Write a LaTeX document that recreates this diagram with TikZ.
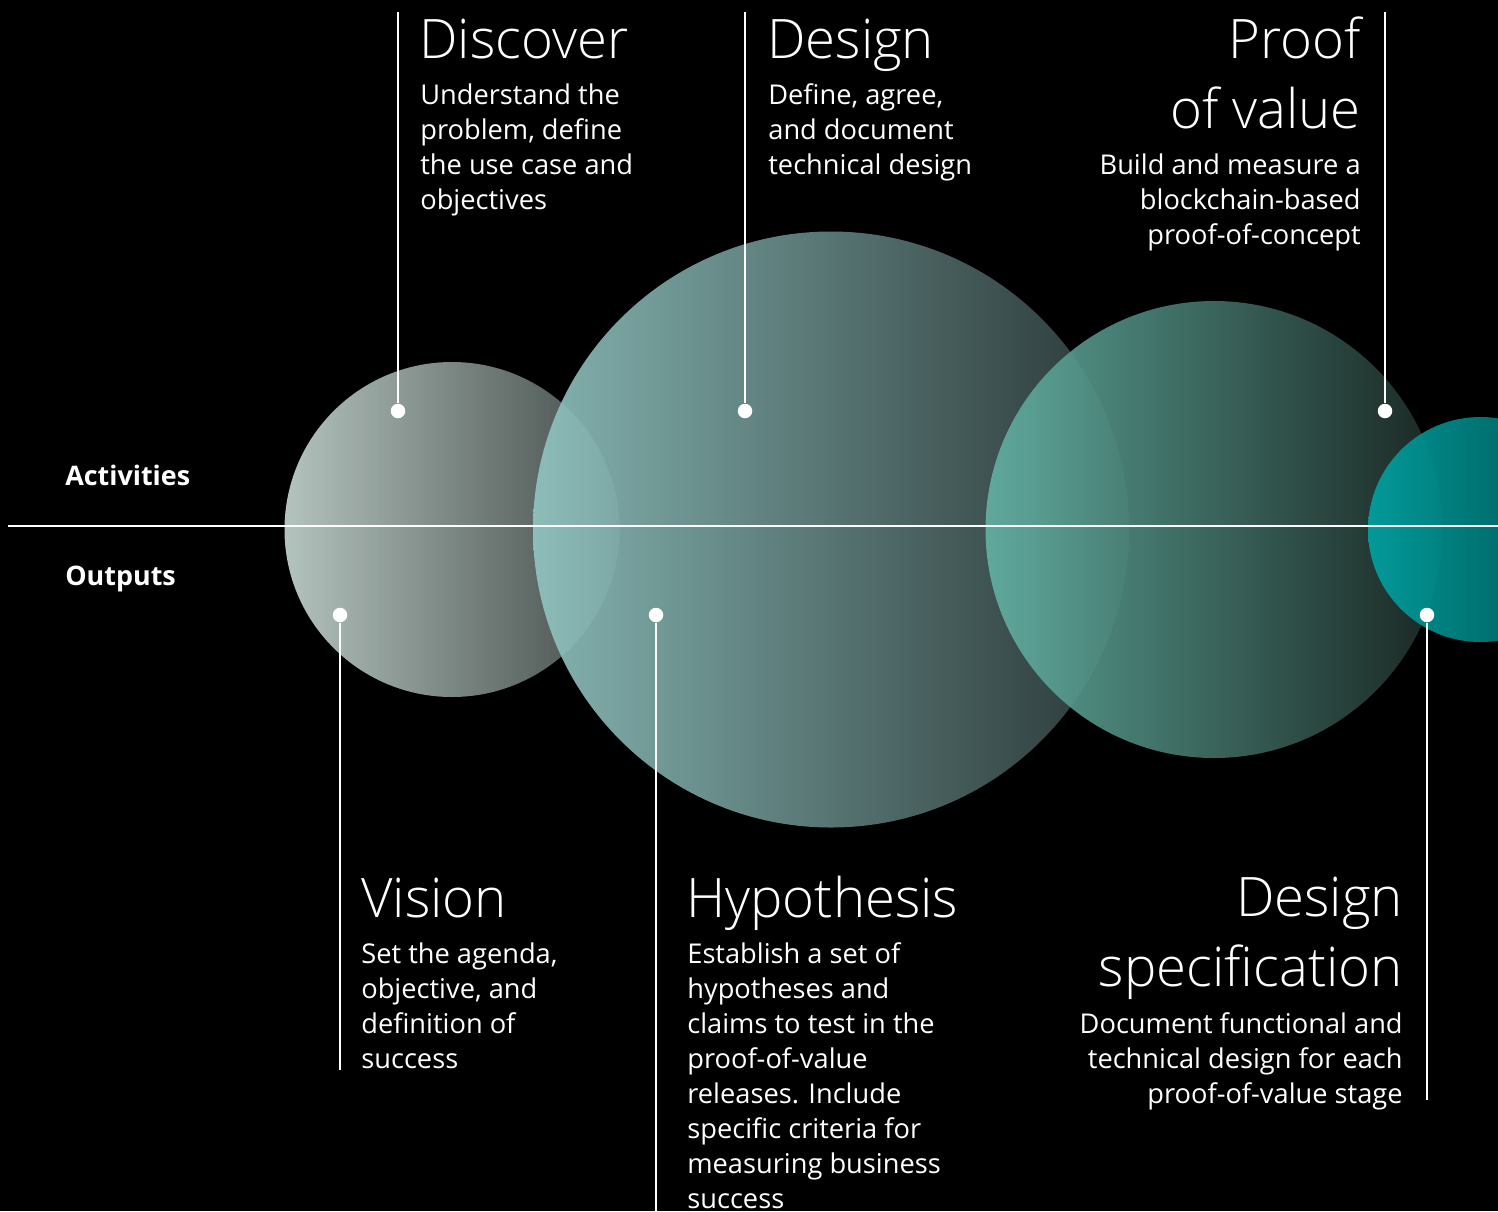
\documentclass[tikz,border=0pt]{standalone}
\usepackage{fontspec}
\setmainfont{Open Sans}
\IfFontExistsTF{Open Sans Light}
    {\newfontfamily\lightfont{Open Sans Light}}
    {\newfontfamily\lightfont{Open Sans}}

\definecolor{sage_light}{HTML}{C8D9D3}
\definecolor{sage_dark}{HTML}{4A5351}
\definecolor{mist_light}{HTML}{93C7C3}
\definecolor{mist_dark}{HTML}{2E3C3C}
\definecolor{sea_light}{HTML}{64B3A5}
\definecolor{sea_dark}{HTML}{1D2B27}
\definecolor{teal_light}{HTML}{00A4A4}
\definecolor{teal_dark}{HTML}{005F5F}

% base anchors sit on the last line of each block
\tikzstyle{stage_title} = [
    white, 
    font=\lightfont\fontsize{31}{39.8}\selectfont, 
    align=left, 
    inner sep=0pt
]
\tikzstyle{stage_text} = [
    white, 
    font=\fontsize{15.5}{19.9}\selectfont, 
    align=left, 
    inner sep=0pt
]
\tikzstyle{row_label} = [
    white, 
    font=\bfseries\fontsize{15.3}{19.9}\selectfont, 
    inner sep=0pt
]
\tikzstyle{dot} = [
    circle, 
    fill=white, 
    inner sep=0pt, 
    minimum size=0.29cm
]
\tikzstyle{leader} = [
    white, 
    line width=1.1pt
]
\tikzstyle{bubble} = [
    fill opacity=0.9
]

\begin{document}
\begin{tikzpicture}[x=0.02cm, y=-0.02cm]
\useasboundingbox (0,0) rectangle (1498,1211);
\fill[black] (0,0) rectangle (1498,1211);
\clip (0,0) rectangle (1498,1211);

% bubbles, left to right
\shade[bubble, left color=sage_light, right color=sage_dark] (452,529.5) circle (167.5);
\shade[bubble, left color=mist_light, right color=mist_dark] (831,529.5) circle (298);
\shade[bubble, left color=sea_light, right color=sea_dark] (1214,529.5) circle (228.5);
\shade[bubble, left color=teal_light, right color=teal_dark] (1480.5,529.5) circle (112.5);

\coordinate (axis_w) at (8,526);
\coordinate (axis_e) at (1498,526);
\draw[leader] (axis_w) -- (axis_e);

\node[row_label, anchor=base west] (activities) at (65,485) {Activities};
\node[row_label, anchor=base west] (outputs) at (65,585) {Outputs};

% activities
\coordinate (discover_top) at (398,12);
\coordinate (design_top) at (745,12);
\coordinate (proof_top) at (1385,12);
\node[dot] (discover_dot) at (398,411) {};
\node[dot] (design_dot) at (745,411) {};
\node[dot] (proof_dot) at (1385,411) {};
\draw[leader] (discover_top) -- (discover_dot);
\draw[leader] (design_top) -- (design_dot);
\draw[leader] (proof_top) -- (proof_dot);

\node[stage_title, anchor=base west] (discover_title) at (419,58) {Discover};
\node[stage_text, anchor=base west] (discover_text) at (420,209) 
    {Understand the\\problem, define\\the use case and\\objectives};
\node[stage_title, anchor=base west] (design_title) at (767,58) {Design};
\node[stage_text, anchor=base west] (design_text) at (768,174) 
    {Define, agree,\\and document\\technical design};
\node[stage_title, anchor=base east, align=right] (proof_title) at (1361,128) 
    {Proof\\of value};
\node[stage_text, anchor=base east, align=right] (proof_text) at (1361,244) 
    {Build and measure a\\blockchain-based\\proof-of-concept};

% outputs
\coordinate (vision_end) at (340,1070);
\coordinate (hypothesis_end) at (656,1211);
\coordinate (spec_end) at (1427,1100);
\node[dot] (vision_dot) at (340,615) {};
\node[dot] (hypothesis_dot) at (656,615) {};
\node[dot] (spec_dot) at (1427,615) {};
\draw[leader] (vision_dot) -- (vision_end);
\draw[leader] (hypothesis_dot) -- (hypothesis_end);
\draw[leader] (spec_dot) -- (spec_end);

\node[stage_title, anchor=base west] (vision_title) at (361,917) {Vision};
\node[stage_text, anchor=base west] (vision_text) at (361,1068) 
    {Set the agenda,\\objective, and\\definition of\\success};
\node[stage_title, anchor=base west] (hypothesis_title) at (686,917) {Hypothesis};
\node[stage_text, anchor=base west] (hypothesis_text) at (687,1208) 
    {Establish a set of\\hypotheses and\\claims to test in the\\proof-of-value\\releases. Include\\specific criteria for\\measuring business\\success};
\node[stage_title, anchor=base east, align=right] (spec_title) at (1403,986) 
    {Design\\specification};
\node[stage_text, anchor=base east, align=right] (spec_text) at (1403,1103) 
    {Document functional and\\technical design for each\\proof-of-value stage};
\end{tikzpicture}
\end{document}
